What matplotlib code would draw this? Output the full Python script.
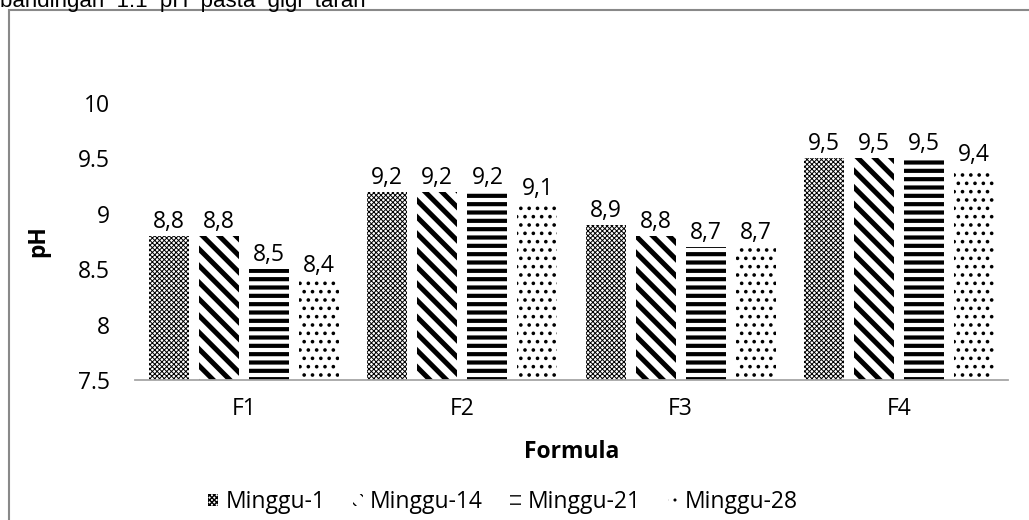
import matplotlib.pyplot as plt
import matplotlib as mpl
import numpy as np
from matplotlib.patches import Rectangle

plt.rcParams['font.family'] = ['Open Sans', 'DejaVu Sans']

formula = ['F1', 'F2', 'F3', 'F4']
minggu1 = [8.8, 9.2, 8.9, 9.5]
minggu14 = [8.8, 9.2, 8.8, 9.5]
minggu21 = [8.5, 9.2, 8.7, 9.5]
minggu28 = [8.4, 9.1, 8.7, 9.4]
series = ['Minggu-1', 'Minggu-14', 'Minggu-21', 'Minggu-28']

# pola hatch pengganti pola Excel
hatches = ['xxxxxxx', '\\\\', '--', '..']
hatch_lw = [0.7, 3.6, 3.0, 1.4]

W, H = 1029, 520
fs = 16.5
fig = plt.figure(figsize=(W / 100, H / 100), dpi=100)
ax = fig.add_axes([135 / W, 1 - 380 / H, (1008 - 135) / W, (380 - 103) / H])

x = np.arange(len(formula))
step = 50 / 218
width = 40 / 218
data = [minggu1, minggu14, minggu21, minggu28]

for i, (vals, name) in enumerate(zip(data, series)):
    with mpl.rc_context({'hatch.linewidth': hatch_lw[i]}):
        bars = ax.bar(x + (i - 1.5) * step, vals, width, color='white',
                      edgecolor='black', linewidth=0, hatch=hatches[i], label=name)
        for b in bars:
            if hasattr(b, 'set_hatch_linewidth'):
                b.set_hatch_linewidth(hatch_lw[i])
    for b, v in zip(bars, vals):
        ax.annotate(f'{v:.1f}'.replace('.', ','), (b.get_x() + b.get_width() / 2, v),
                    xytext=(0, 1.5), textcoords='offset points',
                    ha='center', va='bottom', fontsize=fs)

ax.set_xlim(-0.5, 3.5)
ax.set_ylim(7.5, 10)
ax.set_yticks([7.5, 8, 8.5, 9, 9.5, 10])
ax.set_yticklabels(['7.5', '8', '8.5', '9', '9.5', '10'])
ax.set_xticks(x)
ax.set_xticklabels(formula)
ax.tick_params(axis='both', length=0, labelsize=fs)
ax.tick_params(axis='y', pad=18)
ax.tick_params(axis='x', pad=12)
for s in ['top', 'right', 'left']:
    ax.spines[s].set_visible(False)
ax.spines['bottom'].set_color('#a6a6a6')
ax.spines['bottom'].set_linewidth(1.3)

ax.set_xlabel('Formula', fontweight='bold', fontsize=fs, labelpad=14)
ax.set_ylabel('pH', fontweight='bold', fontsize=fs, labelpad=20)

leg = fig.legend(loc='center', bbox_to_anchor=(0.489, 1 - 502 / H), ncol=4,
                 frameon=False, fontsize=fs, handlelength=0.45, handleheight=0.45,
                 handletextpad=0.3, columnspacing=1.2)

# bingkai grafik dan teks terpotong di atas
fig.patches.append(Rectangle((8.5 / W, -0.1), 1.2, 1 - 9.5 / H + 0.1,
                             transform=fig.transFigure, fill=False,
                             edgecolor='#898989', linewidth=1.5))
fig.text(0, 1 - 7 / H, 'bandingan  1:1  pH  pasta  gigi  tarah', fontsize=16,
         family='Liberation Sans', ha='left', va='baseline')

plt.savefig('out.png', dpi=100)
